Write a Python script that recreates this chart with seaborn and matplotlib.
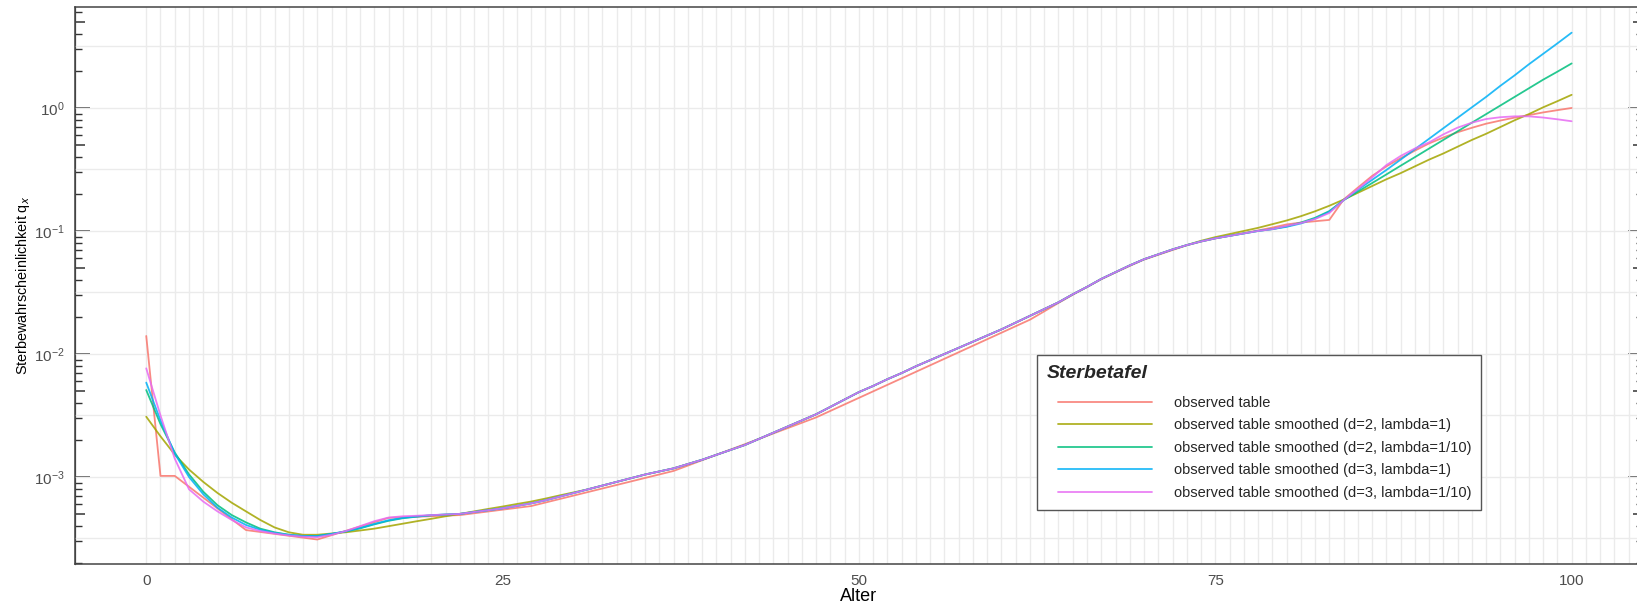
import numpy as np
import pandas as pd
import matplotlib
matplotlib.use("Agg")
import matplotlib.pyplot as plt
from matplotlib.ticker import FixedLocator, LogLocator, NullFormatter, NullLocator
from matplotlib.legend_handler import HandlerLine2D
import seaborn as sns

# ages 0..100 for the smoothed tables
ages = list(range(0, 101))

# observed table: abridged knots up to 62, yearly afterwards
obs_ages = [0, 1, 2, 7, 12, 17, 22, 27, 37, 47] + list(range(62, 101))
obs_q = [0.0140, 1.02e-3, 1.02e-3, 3.70e-4, 3.10e-4, 4.65e-4, 4.90e-4, 5.80e-4, 1.12e-3, 3.05e-3,
         0.0190, 0.0222, 0.0260, 0.0303, 0.0350, 0.0405, 0.0460, 0.0520, 0.0585, 0.0640,
         0.0700, 0.0765, 0.0820, 0.0870, 0.0915, 0.0960, 0.1010, 0.1065, 0.1130, 0.1170,
         0.1200, 0.1230, 0.180, 0.225, 0.280, 0.335, 0.390, 0.450, 0.515, 0.575,
         0.635, 0.690, 0.745, 0.790, 0.835, 0.875, 0.920, 0.960, 1.000]

# ages 22..79, where the smoothed curves lie on top of each other
bundle_q = [5.01e-4, 5.19e-4, 5.37e-4, 5.56e-4, 5.82e-4, 6.10e-4, 6.46e-4, 6.92e-4, 7.41e-4, 7.94e-4,
            8.51e-4, 9.12e-4, 9.77e-4, 1.047e-3, 1.109e-3, 1.175e-3, 1.274e-3, 1.380e-3, 1.514e-3, 1.660e-3,
            1.820e-3, 2.042e-3, 2.291e-3, 2.570e-3, 2.884e-3, 3.236e-3, 3.715e-3, 4.266e-3, 4.898e-3, 5.495e-3,
            6.237e-3, 6.998e-3, 7.943e-3, 8.913e-3, 0.0100, 0.01122, 0.01259, 0.01413, 0.01585, 0.01799,
            0.02042, 0.02317, 0.02630, 0.03055, 0.03508, 0.04074, 0.04624, 0.05248, 0.05888, 0.06457,
            0.07079, 0.07674, 0.08222, 0.08710, 0.09120, 0.09550, 0.1000, 0.1035]

# d=2, lambda=1
olive_head = [3.09e-3, 2.14e-3, 1.52e-3, 1.15e-3, 9.12e-4, 7.41e-4, 6.17e-4, 5.25e-4, 4.47e-4, 3.89e-4,
              3.55e-4, 3.39e-4, 3.39e-4, 3.47e-4, 3.55e-4, 3.67e-4, 3.80e-4, 3.98e-4, 4.17e-4, 4.37e-4,
              4.57e-4, 4.79e-4, 5.01e-4, 5.25e-4, 5.50e-4, 5.75e-4, 6.03e-4, 6.31e-4, 6.67e-4, 7.08e-4,
              7.50e-4]
olive_tail = [0.0832, 0.0891, 0.0944, 0.100, 0.106, 0.1135, 0.1216, 0.1318, 0.1445, 0.1603,
              0.1799, 0.2042, 0.2317, 0.2630, 0.2951, 0.3350, 0.3802, 0.4266, 0.4842, 0.5495,
              0.6166, 0.6998, 0.7943, 0.8913, 1.012, 1.135, 1.279]

# d=2, lambda=1/10
green_head = [5.09e-3, 2.69e-3, 1.58e-3, 1.05e-3, 7.59e-4, 5.89e-4, 4.90e-4, 4.27e-4, 3.80e-4, 3.55e-4,
              3.39e-4, 3.31e-4, 3.31e-4, 3.44e-4, 3.60e-4, 3.82e-4, 4.12e-4, 4.40e-4, 4.62e-4, 4.76e-4,
              4.88e-4, 4.95e-4]
green_tail = [0.109, 0.117, 0.128, 0.145, 0.178, 0.209, 0.245, 0.288, 0.339, 0.398,
              0.468, 0.550, 0.646, 0.759, 0.891, 1.047, 1.230, 1.445, 1.698, 1.972, 2.301]

# d=3, lambda=1
blue_head = [5.85e-3, 2.88e-3, 1.55e-3, 1.00e-3, 7.24e-4, 5.62e-4, 4.68e-4, 4.07e-4, 3.72e-4, 3.51e-4,
             3.39e-4, 3.31e-4, 3.31e-4, 3.45e-4, 3.62e-4, 3.85e-4, 4.15e-4, 4.45e-4, 4.65e-4, 4.78e-4,
             4.89e-4, 4.95e-4]
blue_tail = [0.108, 0.115, 0.126, 0.143, 0.178, 0.216, 0.260, 0.313, 0.380, 0.462,
             0.562, 0.684, 0.832, 1.012, 1.230, 1.514, 1.841, 2.265, 2.754, 3.350, 4.093]

# d=3, lambda=1/10
pink_head = [7.64e-3, 3.16e-3, 1.41e-3, 7.94e-4, 6.31e-4, 5.25e-4, 4.47e-4, 3.89e-4, 3.63e-4, 3.47e-4,
             3.35e-4, 3.27e-4, 3.24e-4, 3.39e-4, 3.63e-4, 3.98e-4, 4.37e-4, 4.68e-4, 4.79e-4, 4.84e-4,
             4.90e-4, 4.95e-4]
pink_tail = [0.110, 0.116, 0.125, 0.140, 0.178, 0.219, 0.272, 0.343, 0.407, 0.468,
             0.525, 0.610, 0.692, 0.759, 0.813, 0.841, 0.855, 0.855, 0.836, 0.809, 0.780]

labels = ["observed table",
          "observed table smoothed (d=2, lambda=1)",
          "observed table smoothed (d=2, lambda=1/10)",
          "observed table smoothed (d=3, lambda=1)",
          "observed table smoothed (d=3, lambda=1/10)"]
colors = ["#F8766D", "#A3A500", "#00BF7D", "#00B0F6", "#E76BF3"]

series = [
    (obs_ages, obs_q),
    (ages, olive_head + bundle_q[9:52] + olive_tail),
    (ages, green_head + bundle_q + green_tail),
    (ages, blue_head + bundle_q + blue_tail),
    (ages, pink_head + bundle_q + pink_tail),
]
df = pd.concat([pd.DataFrame({"Alter": x, "qx": y, "Tafel": lab})
                for (x, y), lab in zip(series, labels)], ignore_index=True)


class ShiftedLine(HandlerLine2D):
    # legend key indented a bit, like the ggplot key margin
    def create_artists(self, legend, orig_handle, xdescent, ydescent, width, height, fontsize, trans):
        shift = 0.75 * fontsize
        arts = super().create_artists(legend, orig_handle, xdescent, ydescent,
                                      width - shift, height, fontsize, trans)
        for a in arts:
            a.set_xdata(np.asarray(a.get_xdata()) + shift)
        return arts


sns.set_style("white")
plt.rcParams["font.family"] = ["Liberation Sans", "DejaVu Sans"]

fig = plt.figure(figsize=(16.37, 6.04), dpi=100)
ax = fig.add_axes([0.0458, 0.0662, 0.9578, 0.9222])

sns.lineplot(data=df, x="Alter", y="qx", hue="Tafel", hue_order=labels, palette=colors,
             estimator=None, sort=False, linewidth=1.3, alpha=0.85, ax=ax)

ax.set_yscale("log")
ax.set_xlim(-5, 105)
ax.set_ylim(1.96e-4, 6.62)

ax.xaxis.set_major_locator(FixedLocator([0, 25, 50, 75, 100]))
ax.xaxis.set_minor_locator(FixedLocator(np.arange(0, 105)))
ax.yaxis.set_major_locator(LogLocator(base=10, numticks=20))
ax.yaxis.set_minor_locator(LogLocator(base=10, subs=[10 ** 0.5], numticks=20))
ax.yaxis.set_minor_formatter(NullFormatter())
ax.set_axisbelow(True)
ax.grid(which="both", color="#EBEBEB", linewidth=1.0)
ax.tick_params(which="minor", length=0)
ax.tick_params(which="major", direction="out", length=4, width=1, color="#333333",
               labelcolor="#4D4D4D", labelsize=11)

for sp in ax.spines.values():
    sp.set_color("#444444")
    sp.set_linewidth(1.1)

# log ticks inside the panel, left and right
for side in ("left", "right"):
    s1 = ax.secondary_yaxis(side)
    s1.yaxis.set_major_locator(LogLocator(base=10, numticks=20))
    s1.yaxis.set_minor_locator(LogLocator(base=10, subs=[5], numticks=20))
    s1.yaxis.set_major_formatter(NullFormatter())
    s1.yaxis.set_minor_formatter(NullFormatter())
    s1.tick_params(which="major", direction="in", length=10.5, width=1.1, color="#333333")
    s1.tick_params(which="minor", direction="in", length=7, width=1.1, color="#333333")
    s1.spines[side].set_color("#444444")
    s2 = ax.secondary_yaxis(side)
    s2.yaxis.set_major_locator(NullLocator())
    s2.yaxis.set_minor_locator(LogLocator(base=10, subs=[2, 3, 4, 6, 7, 8, 9], numticks=20))
    s2.yaxis.set_minor_formatter(NullFormatter())
    s2.tick_params(which="minor", direction="in", length=4.8, width=1.0, color="#333333")
    s2.spines[side].set_color("#444444")

ax.set_xlabel("Alter", fontsize=13, color="black", labelpad=0)
ax.set_ylabel("Sterbewahrscheinlichkeit q$_x$", fontsize=10.4, color="black")
ax.yaxis.set_label_coords(-0.0274, 0.5)

handles, labs = ax.get_legend_handles_labels()
leg = ax.legend(handles, labs, title="Sterbetafel", loc="upper left",
                bbox_to_anchor=(1030 / 1637, 1 - 348 / 604), bbox_transform=fig.transFigure,
                frameon=True, fancybox=False, edgecolor="#555555", framealpha=1,
                fontsize=10.5, handlelength=7.2, handletextpad=1.5, labelspacing=0.59,
                borderpad=0.65, alignment="left",
                handler_map={matplotlib.lines.Line2D: ShiftedLine()})
leg.get_title().set_fontsize(14)
leg.get_title().set_fontweight("bold")
leg.get_title().set_fontstyle("italic")
leg.get_frame().set_linewidth(1.0)
leg._legend_box.sep = 10
for h in leg.get_lines():
    h.set_linewidth(1.3)

fig.savefig("out.png", dpi=100)
